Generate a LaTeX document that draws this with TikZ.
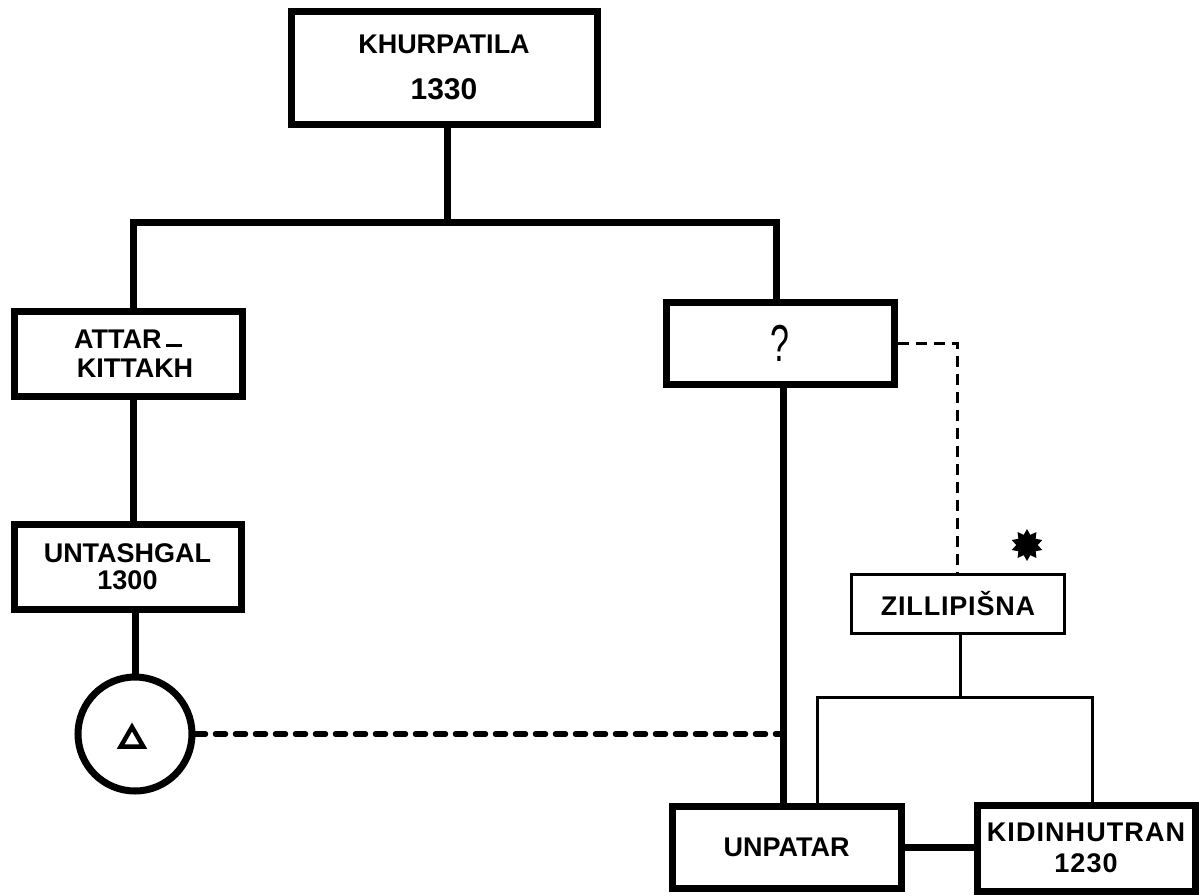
\documentclass[tikz,border=0pt]{standalone}
\usepackage{fontspec}
\setmainfont{Liberation Sans}
\usetikzlibrary{shapes.geometric}
\newcommand\boxfont[1]{\fontsize{27}{#1}\selectfont\bfseries}
\begin{document}
\begin{tikzpicture}[x=1pt,y=-1pt,
  heavybox/.style={draw,rectangle,line width=7pt,inner sep=0pt,align=center},
  lightbox/.style={draw,rectangle,line width=3pt,inner sep=0pt,align=center},
  thick line/.style={line width=7pt},
  thin line/.style={line width=3pt},
  heavydash/.style={line width=5.5pt,dash pattern=on 10pt off 10pt,line cap=round},
  lightdash/.style={line width=3pt,dash pattern=on 11pt off 7pt}]
\useasboundingbox (0,0) rectangle (1199,895);

% boxes
\node[heavybox,minimum width=306pt,minimum height=113pt,font={\boxfont{46}}] (K) at (444,67.5) {KHURPATILA\\{\fontsize{30}{46}\selectfont 1330}};
\node[heavybox,minimum width=228pt,minimum height=85pt,font={\boxfont{29}}] (A) at (128,353.5) {ATTAR\,\rule[1pt]{16pt}{3pt}\\\hspace*{14pt}KITTAKH};
\node[heavybox,minimum width=227pt,minimum height=85pt,font={\boxfont{27}}] (UN) at (127.5,566.5) {UNTASHGAL\\1300};
\node[heavybox,minimum width=228pt,minimum height=82pt,font={\fontsize{40}{44}\selectfont}] (Q) at (780,343) {\scalebox{0.85}[1.3]{?}};
\node[lightbox,minimum width=213pt,minimum height=59pt,font={\boxfont{30}\addfontfeatures{LetterSpace=3}}] (Z) at (958,603.5) {ZILLIPIŠNA};
\node[heavybox,minimum width=229pt,minimum height=82pt,font={\boxfont{30}}] (U) at (786.5,847) {UNPATAR};
\node[heavybox,minimum width=218pt,minimum height=86pt,font={\boxfont{31}\addfontfeatures{LetterSpace=4}}] (KI) at (1086,848) {KIDINHUTRAN\\1230};
\node[draw,circle,line width=7pt,minimum size=114pt,inner sep=0pt] (C) at (135,734) {};
\node[draw,regular polygon,regular polygon sides=3,line width=4.5pt,minimum size=26pt,inner sep=0pt] (T) at (132,740) {};
\node[star,star points=10,star point ratio=1.5,fill,minimum size=32pt,inner sep=0pt] (S) at (1027,545) {};

% helper coordinates
\coordinate (km) at (447,222);
\coordinate (bl) at (133,222);
\coordinate (br) at (776,222);
\coordinate (qu) at (783,0);
\coordinate (zc) at (957,0);
\coordinate (zb) at (960,697);
\coordinate (b1) at (817,697);
\coordinate (b2) at (1092,697);
\coordinate (dc) at (0,730);

% solid connectors
\draw[thick line] (K.south -| km) -- (km);
\draw[thick line,line cap=rect] (bl) -- (br);
\draw[thick line] (bl) -- (A.north -| bl);
\draw[thick line] (br) -- (Q.north -| br);
\draw[thick line] (A.south -| bl) -- (UN.north -| bl);
\draw[thick line] (UN.south -| C.north) -- (C.north);
\draw[thick line] (Q.south -| qu) -- (U.north -| qu);
\draw[thick line] (U.east) -- (U.east -| KI.west);
\draw[thin line] (Z.south -| zb) -- (zb);
\draw[thin line] (U.north -| b1) -- (b1) -- (b2) -- (KI.north -| b2);

% dashed connectors
\draw[heavydash] (C.east) -- (C.east -| qu);
\draw[lightdash] (Q.east) -- (Q.east -| zc) -- (Z.north -| zc);
\end{tikzpicture}
\end{document}
